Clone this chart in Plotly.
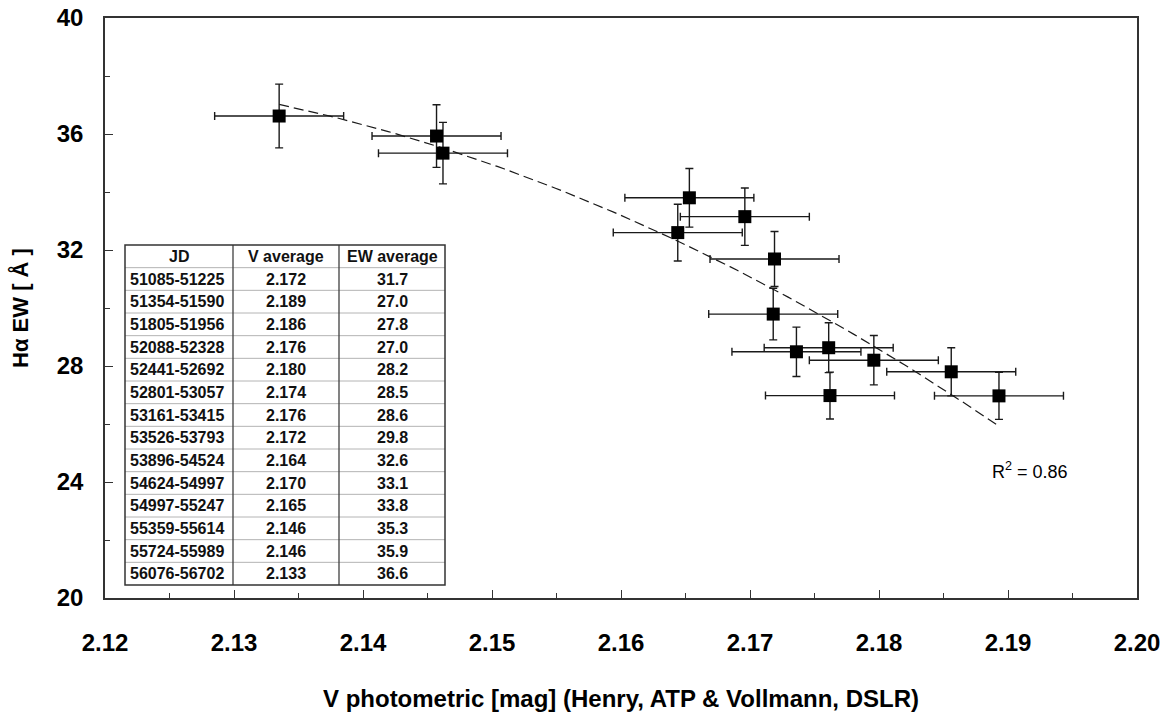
import numpy as np
import plotly.graph_objects as go

# ---- data ----
jd_ranges = ["51085-51225", "51354-51590", "51805-51956", "52088-52328",
             "52441-52692", "52801-53057", "53161-53415", "53526-53793",
             "53896-54524", "54624-54997", "54997-55247", "55359-55614",
             "55724-55989", "56076-56702"]
v_avg_txt = ["2.172", "2.189", "2.186", "2.176", "2.180", "2.174", "2.176",
             "2.172", "2.164", "2.170", "2.165", "2.146", "2.146", "2.133"]
ew_avg_txt = ["31.7", "27.0", "27.8", "27.0", "28.2", "28.5", "28.6",
              "29.8", "32.6", "33.1", "33.8", "35.3", "35.9", "36.6"]
table_header = ["JD", "V average", "EW average"]

v_mag = [2.1719, 2.1893, 2.1856, 2.1762, 2.1796, 2.1736, 2.1761,
         2.1718, 2.1644, 2.1696, 2.1653, 2.1462, 2.1457, 2.1335]
ew = [31.69, 26.97, 27.80, 26.98, 28.20, 28.49, 28.63,
      29.79, 32.60, 33.15, 33.80, 35.34, 35.93, 36.62]
v_err = [0.005, 0.005, 0.005, 0.005, 0.005, 0.005, 0.005,
         0.005, 0.005, 0.005, 0.005, 0.005, 0.005, 0.005]
ew_err = [0.95, 0.81, 0.83, 0.81, 0.85, 0.85, 0.86,
          0.89, 0.98, 0.99, 1.01, 1.06, 1.08, 1.10]

r2_text = "R<sup>2</sup> = 0.86"

# ---- trend line (2nd order polynomial fit of the points) ----
coef = np.polyfit(v_mag, ew, 2)
xt = np.linspace(min(v_mag), max(v_mag), 100)
yt = np.polyval(coef, xt)

W, H = 1167, 717
L, R, T, B = 105, 30, 18, 119
pw, ph = W - L - R, H - T - B

FONT = "Liberation Sans, Arial, sans-serif"
ink = "#1a1a1a"

fig = go.Figure()

fig.add_trace(go.Scatter(
    x=xt, y=yt, mode="lines",
    line=dict(color=ink, width=1.2, dash="10px,5px"),
    hoverinfo="skip", showlegend=False))

fig.add_trace(go.Scatter(
    x=v_mag, y=ew, mode="markers",
    marker=dict(symbol="square", size=13, color="black"),
    error_x=dict(type="data", array=v_err, color=ink, thickness=1.4, width=4),
    error_y=dict(type="data", array=ew_err, color=ink, thickness=1.4, width=4),
    showlegend=False))

# ---- inset table drawn with shapes + text (pixel layout -> paper) ----
def px_x(p):
    return (p - L) / pw

def px_y(p):
    return (H - B - p) / ph

tx0, ty0, ty1 = 125, 245, 585
col_w = [108, 106, 106]
nrows = len(jd_ranges) + 1
row_h = (ty1 - ty0) / nrows
col_edges = [tx0]
for w in col_w:
    col_edges.append(col_edges[-1] + w)

shapes = []
annotations = []
# horizontal inner lines (light grey)
for i in range(1, nrows):
    yy = px_y(ty0 + i * row_h)
    shapes.append(dict(type="line", xref="paper", yref="paper",
                       x0=px_x(col_edges[0]), x1=px_x(col_edges[-1]), y0=yy, y1=yy,
                       line=dict(color="#b4b4b4", width=1)))
# column separators
for xe in col_edges[1:-1]:
    shapes.append(dict(type="line", xref="paper", yref="paper",
                       x0=px_x(xe), x1=px_x(xe), y0=px_y(ty1), y1=px_y(ty0),
                       line=dict(color="#404040", width=1.3)))
# outer border
shapes.append(dict(type="rect", xref="paper", yref="paper",
                   x0=px_x(col_edges[0]), x1=px_x(col_edges[-1]),
                   y0=px_y(ty1), y1=px_y(ty0),
                   line=dict(color="#333", width=1.5)))

tfont = dict(family=FONT, size=16, color="#111", weight="bold")
columns = [jd_ranges, v_avg_txt, ew_avg_txt]
for r in range(nrows):
    yc = px_y(ty0 + (r + 0.5) * row_h)
    for c in range(3):
        txt = table_header[c] if r == 0 else columns[c][r - 1]
        if c == 0 and r > 0:
            xa, xp = "left", px_x(col_edges[0] + 3)
        else:
            xa, xp = "center", px_x((col_edges[c] + col_edges[c + 1]) / 2)
        annotations.append(dict(x=xp, y=yc, xref="paper", yref="paper",
                                text=txt, showarrow=False, xanchor=xa,
                                yanchor="middle", font=tfont))

annotations.append(dict(x=2.1886, y=24.41, xref="x", yref="y", text=r2_text,
                        showarrow=False, xanchor="left", yanchor="middle",
                        font=dict(family=FONT, size=18, color="black")))

fig.update_layout(
    width=W, height=H,
    margin=dict(l=L, r=R, t=T, b=B, autoexpand=False),
    paper_bgcolor="white", plot_bgcolor="white",
    font=dict(family=FONT, color="black"),
    shapes=shapes,
    annotations=annotations,
    xaxis=dict(range=[2.12, 2.20], dtick=0.01, tick0=2.12, tickformat=".2f",
               showgrid=False, zeroline=False,
               showline=True, linecolor="#333", linewidth=1.5, mirror=True,
               ticks="inside", ticklen=8, tickwidth=1.3, tickcolor="#333",
               minor=dict(dtick=0.005, ticks="inside", ticklen=5,
                          tickwidth=1.2, tickcolor="#333"),
               tickfont=dict(family=FONT, size=24, color="black", weight="bold"),
               ticklabelstandoff=22,
               title=dict(text="V photometric [mag] (Henry, ATP & Vollmann, DSLR)",
                          font=dict(family=FONT, size=24, color="black", weight="bold"),
                          standoff=36)),
    yaxis=dict(range=[20, 40], dtick=4, tick0=20,
               showgrid=False, zeroline=False,
               showline=True, linecolor="#333", linewidth=1.5, mirror=True,
               ticks="inside", ticklen=8, tickwidth=1.3, tickcolor="#333",
               minor=dict(dtick=2, ticks="inside", ticklen=5,
                          tickwidth=1.2, tickcolor="#333"),
               tickfont=dict(family=FONT, size=24, color="black", weight="bold"),
               ticklabelstandoff=15,
               title=dict(text="Hα EW [ Å ]",
                          font=dict(family=FONT, size=22, color="black", weight="bold"),
                          standoff=22)),
)

fig.write_html("out.html",
               config={"displayModeBar": False},
               post_script="document.body.style.margin='0';document.body.style.overflow='hidden';")
